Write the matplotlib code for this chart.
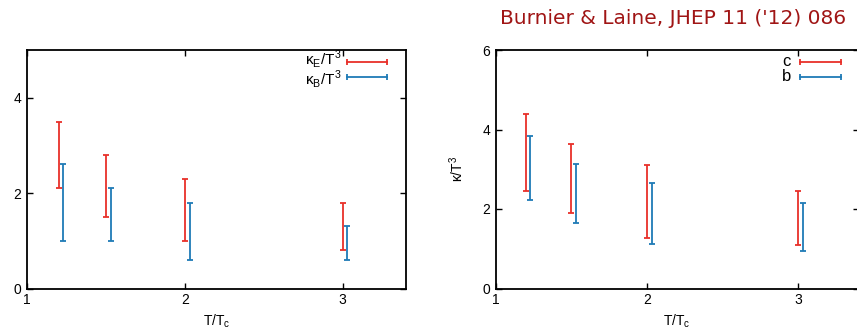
import matplotlib.pyplot as plt
from matplotlib.lines import Line2D

# left panel: kappa_E / T^3 and kappa_B / T^3
x_e = [1.2, 1.5, 2.0, 3.0]
e_lo = [2.1, 1.5, 1.0, 0.8]
e_hi = [3.5, 2.8, 2.3, 1.8]
x_b = [1.23, 1.53, 2.03, 3.03]
b_lo = [1.0, 1.0, 0.6, 0.6]
b_hi = [2.6, 2.1, 1.8, 1.3]

# right panel: charm and bottom
x_c = [1.2, 1.5, 2.0, 3.0]
c_lo = [2.45, 1.89, 1.27, 1.10]
c_hi = [4.40, 3.63, 3.10, 2.45]
x_bq = [1.23, 1.53, 2.03, 3.03]
bq_lo = [2.23, 1.66, 1.12, 0.95]
bq_hi = [3.84, 3.13, 2.66, 2.15]

RED = "#e8302a"
BLUE = "#1f7bb6"

plt.rcParams["font.family"] = ["Liberation Sans", "DejaVu Sans"]
plt.rcParams["mathtext.fontset"] = "custom"
plt.rcParams["mathtext.rm"] = "Liberation Sans"

fig = plt.figure(figsize=(8.57, 3.35), dpi=100)
W, H = 857, 335
ax1 = fig.add_axes([27 / W, 1 - 288.5 / H, (405.7 - 27) / W, (288.5 - 50) / H])
ax2 = fig.add_axes([495.7 / W, 1 - 288.5 / H, (858.8 - 495.7) / W, (288.5 - 50) / H])


def bars(ax, x, lo, hi, color):
    mid = [(a + b) / 2 for a, b in zip(lo, hi)]
    err = [[m - a for m, a in zip(mid, lo)], [b - m for m, b in zip(mid, hi)]]
    ax.errorbar(x, mid, yerr=err, fmt="none", ecolor=color, elinewidth=1.3,
                capsize=2, capthick=1.3)


def style(ax, ylim, yticks):
    ax.set_xlim(1, 3.4)
    ax.set_ylim(*ylim)
    ax.set_xticks([1, 2, 3])
    ax.set_yticks(yticks)
    ax.tick_params(direction="in", top=True, right=True, labelsize=10,
                   length=4, width=1, pad=4)
    ax.tick_params(axis="x", pad=3)
    for s in ax.spines.values():
        s.set_linewidth(1.3)
    ax.set_xlabel(r"T/T$_\mathrm{c}$", fontsize=10, labelpad=4)


def key(labels, x0, x1, text_x, rows, size, spacing):
    # gnuplot-style key: labels stacked on the left, capped lines on the right
    for c, y in zip((RED, BLUE), rows):
        fig.add_artist(Line2D([x0 / W, x1 / W], [1 - y / H, 1 - y / H],
                              color=c, lw=1.3, marker="|", markersize=4,
                              markeredgewidth=1.3))
    fig.text(text_x / W, 1 - sum(rows) / 2 / H, "\n".join(labels),
             ha="right", va="center", ma="right", fontsize=size,
             linespacing=spacing)


bars(ax1, x_e, e_lo, e_hi, RED)
bars(ax1, x_b, b_lo, b_hi, BLUE)
style(ax1, (0, 5), [0, 2, 4])
key([r"κ$_\mathrm{E}$/T$^\mathrm{3}$", r"κ$_\mathrm{B}$/T$^\mathrm{3}$"],
    347, 386.5, 341.5, (61.7, 76.7), 11, 0.85)

bars(ax2, x_c, c_lo, c_hi, RED)
bars(ax2, x_bq, bq_lo, bq_hi, BLUE)
style(ax2, (0, 6), [0, 2, 4, 6])
ax2.set_ylabel(r"κ/T$^\mathrm{3}$", fontsize=10, labelpad=12)
key(["c", "b"], 800, 840.5, 791, (61.7, 76.7), 12, 0.95)

fig.text(846 / W, 1 - 18 / H, "Burnier & Laine, JHEP 11 ('12) 086",
         color="#a01515", fontsize=14.5, ha="right", va="center",
         family=["DejaVu Sans"])

fig.savefig("out.png", dpi=100)
